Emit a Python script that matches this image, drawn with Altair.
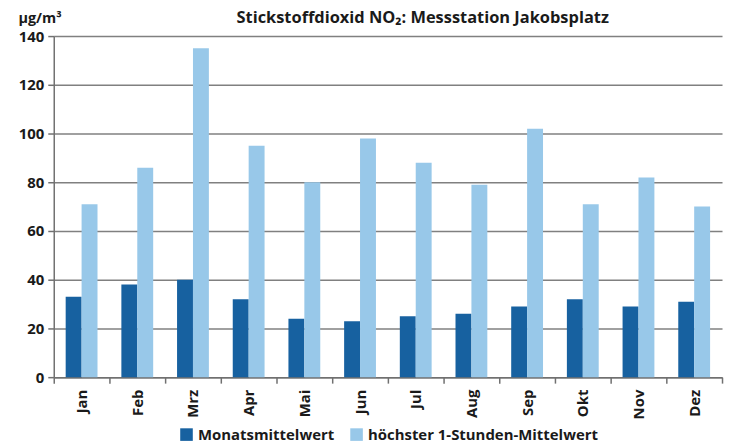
import altair as alt
import pandas as pd

months = ["Jan", "Feb", "Mrz", "Apr", "Mai", "Jun", "Jul", "Aug", "Sep", "Okt", "Nov", "Dez"]
monatsmittel = [33, 38, 40, 32, 24, 23, 25, 26, 29, 32, 29, 31]
hoechster = [71, 86, 135, 95, 80, 98, 88, 79, 102, 71, 82, 70]
series = ["Monatsmittelwert", "höchster 1-Stunden-Mittelwert"]
colors = ["#1761a0", "#98c8e9"]

rows = []
for i, m in enumerate(months):
    rows.append({"Monat": m, "Serie": series[0], "Wert": monatsmittel[i]})
    rows.append({"Monat": m, "Serie": series[1], "Wert": hoechster[i]})
df = pd.DataFrame(rows)

FONT = "Open Sans"

chart = alt.Chart(df).mark_bar().encode(
    x=alt.X("Monat:N", sort=months,
            scale=alt.Scale(paddingInner=0, paddingOuter=0),
            axis=alt.Axis(title=None, labelAngle=-90, labelAlign="right", labelBaseline="middle",
                          labelFont=FONT, labelFontSize=15, labelFontWeight="bold", labelColor="#1a1a1a",
                          labelPadding=6, tickBand="extent", tickSize=6, tickColor="#707070",
                          tickWidth=1.5, domainColor="#707070", domainWidth=1.5, grid=False)),
    xOffset=alt.XOffset("Serie:N", sort=series, scale=alt.Scale(paddingOuter=0.75, paddingInner=0)),
    y=alt.Y("Wert:Q", scale=alt.Scale(domain=[0, 140], nice=False),
            axis=alt.Axis(values=[0, 20, 40, 60, 80, 100, 120, 140], title="µg/m³",
                          titleAngle=0, titleAlign="left", titleBaseline="alphabetic",
                          titleX=-36, titleY=-14, titleFont=FONT, titleFontSize=14.5,
                          titleFontWeight="bold", titleColor="#1a1a1a",
                          labelFont=FONT, labelFontSize=15, labelFontWeight="bold", labelColor="#1a1a1a",
                          labelPadding=4, tickSize=6, tickColor="#707070", tickWidth=1.5,
                          domainColor="#707070", domainWidth=1.5,
                          gridColor="#808080", gridWidth=1.5)),
    color=alt.Color("Serie:N", sort=series,
                    scale=alt.Scale(domain=series, range=colors),
                    legend=alt.Legend(title=None, orient="none", direction="horizontal",
                                      legendX=126, legendY=393, symbolType="square", symbolSize=160,
                                      symbolStrokeWidth=0, labelFont=FONT, labelFontSize=15,
                                      labelFontWeight="bold", labelColor="#1a1a1a",
                                      columnPadding=14, labelLimit=400)),
).properties(
    width=672,
    height=343,
    title=alt.TitleParams("Stickstoffdioxid NO₂: Messstation Jakobsplatz", font=FONT,
                          fontSize=16.5, fontWeight="bold", color="#1a1a1a", anchor="middle",
                          dx=35, offset=-16),
    autosize=alt.AutoSizeParams(type="none"),
    padding={"left": 46, "top": 27, "right": 4, "bottom": 68},
).configure_view(stroke=None)

chart.save("out.html", embed_options={"renderer": "svg", "actions": False})
